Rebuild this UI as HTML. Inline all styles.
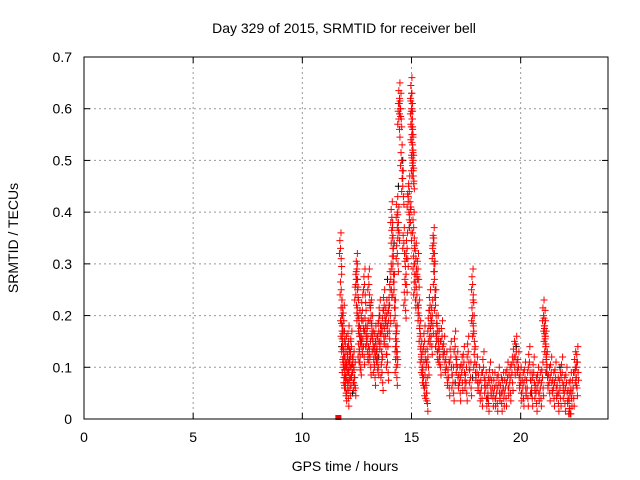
<!DOCTYPE html>
<html><head><meta charset="utf-8"><style>
body{margin:0;background:#fff}
svg{display:block;font-family:"Liberation Sans",sans-serif}
</style></head><body>
<svg id="chart" width="640" height="480" viewBox="0 0 640 480">
<rect x="0" y="0" width="640" height="480" fill="#fff"/>
<text x="344" y="33" font-size="14" text-anchor="middle" fill="#000">Day 329 of 2015, SRMTID for receiver bell</text>
<g id="grid"></g>
<g id="ticks"></g>
<g id="black"></g>
<g id="red"></g>
<rect x="84" y="57" width="524" height="362" fill="none" stroke="#000" stroke-width="1"/>
<text x="345" y="471" font-size="14" text-anchor="middle">GPS time / hours</text>
<text transform="translate(18,238) rotate(-90)" font-size="14" text-anchor="middle">SRMTID / TECUs</text>
</svg>
<script>
const xTicks=[0,5,10,15,20];
const yTicks=[0,0.1,0.2,0.3,0.4,0.5,0.6,0.7];
const yTickLabels=["0","0.1","0.2","0.3","0.4","0.5","0.6","0.7"];
const redHours=[11.75,11.78,11.8,11.82,11.85,11.88,11.9,11.92,11.95,11.98,12.0,12.05,12.08,12.1,12.12,12.15,12.18,12.2,12.25,12.3,12.35,12.4,12.45,12.5,12.5,12.55,12.6,12.62,12.65,12.7,12.75,12.8,12.85,12.9,12.95,13.0,13.05,13.1,13.15,13.2,13.25,13.3,13.35,13.4,13.45,13.5,13.55,13.6,13.65,13.7,13.75,13.8,13.85,13.9,13.95,14.0,14.05,14.1,14.12,14.15,14.2,14.25,14.3,14.3,14.32,14.35,14.35,14.4,14.42,14.45,14.5,14.55,14.6,14.65,14.7,14.75,14.8,14.85,14.9,14.95,15.0,15.0,15.02,15.02,15.05,15.05,15.08,15.1,15.12,15.15,15.2,15.25,15.3,15.35,15.4,15.45,15.5,15.55,15.6,15.65,15.7,15.75,15.8,15.85,15.9,15.95,16.0,16.02,16.05,16.1,16.15,16.2,16.25,16.3,16.4,16.5,16.6,16.7,16.8,16.9,17.0,17.1,17.2,17.3,17.4,17.5,17.6,17.7,17.8,17.8,17.85,17.9,18.0,18.1,18.2,18.3,18.4,18.5,18.6,18.7,18.8,18.9,19.0,19.1,19.2,19.3,19.4,19.5,19.6,19.7,19.8,19.9,20.0,20.1,20.2,20.3,20.4,20.5,20.6,20.7,20.8,20.9,21.0,21.05,21.1,21.12,21.15,21.2,21.3,21.4,21.5,21.6,21.7,21.8,21.9,22.0,22.1,22.2,22.25,22.3,22.4,22.5,22.55,22.6];
const redVals=[0.33,0.25,0.2,0.17,0.14,0.1,0.19,0.12,0.08,0.07,0.13,0.09,0.06,0.11,0.15,0.08,0.1,0.12,0.14,0.09,0.1,0.08,0.24,0.29,0.27,0.2,0.13,0.18,0.12,0.16,0.21,0.14,0.26,0.18,0.15,0.16,0.26,0.12,0.2,0.17,0.14,0.1,0.15,0.13,0.12,0.17,0.2,0.15,0.09,0.18,0.22,0.16,0.2,0.11,0.19,0.22,0.27,0.39,0.35,0.3,0.25,0.2,0.14,0.1,0.15,0.32,0.4,0.38,0.58,0.62,0.6,0.5,0.45,0.34,0.23,0.28,0.33,0.42,0.44,0.38,0.63,0.6,0.58,0.55,0.52,0.49,0.48,0.37,0.3,0.25,0.31,0.24,0.29,0.2,0.16,0.12,0.1,0.08,0.15,0.07,0.05,0.12,0.18,0.22,0.16,0.2,0.32,0.34,0.27,0.22,0.15,0.17,0.14,0.12,0.16,0.13,0.1,0.08,0.12,0.07,0.14,0.1,0.07,0.09,0.11,0.07,0.13,0.08,0.26,0.2,0.17,0.11,0.09,0.07,0.06,0.1,0.06,0.05,0.08,0.06,0.06,0.05,0.07,0.05,0.06,0.06,0.08,0.07,0.09,0.12,0.13,0.1,0.07,0.06,0.08,0.06,0.11,0.06,0.09,0.05,0.07,0.06,0.08,0.2,0.18,0.16,0.14,0.1,0.07,0.09,0.06,0.08,0.05,0.06,0.09,0.05,0.07,0.04,0.02,0.06,0.06,0.1,0.08,0.11,0.07];
const blackHours=[11.8,12.0,12.3,12.7,13.1,13.5,13.9,14.2,14.4,14.6,14.9,15.3,15.7,16.0,16.5,17.0,17.8,18.5,19.2,19.8,20.5,21.2,21.8,22.4];
const blackVals=[0.14,0.08,0.05,0.15,0.22,0.12,0.27,0.34,0.45,0.5,0.37,0.22,0.11,0.35,0.13,0.07,0.08,0.04,0.06,0.14,0.05,0.09,0.1,0.06];
const xMin=0,xMax=24,yMin=0,yMax=0.7,L=84,R=608,T=57,B=419;
const sx=v=>L+(v-xMin)/(xMax-xMin)*(R-L);
const sy=v=>B-(v-yMin)/(yMax-yMin)*(B-T);
const NS="http://www.w3.org/2000/svg";
function mk(tag,attrs,parent){const e=document.createElementNS(NS,tag);for(const k in attrs)e.setAttribute(k,attrs[k]);parent.appendChild(e);return e;}
const grid=document.getElementById('grid'),ticks=document.getElementById('ticks');
xTicks.forEach(v=>{const x=sx(v);
 if(v>0){const g=mk('line',{x1:x,x2:x,y1:T,y2:B,stroke:'#999','stroke-dasharray':'2,3'},grid);
 
 }
 const t=mk('text',{x:x,y:B+23,'font-size':14,'text-anchor':'middle'},ticks);t.textContent=v;
 
 
 mk('line',{x1:x,x2:x,y1:B,y2:B-6,stroke:'#000'},ticks);mk('line',{x1:x,x2:x,y1:T,y2:T+6,stroke:'#000'},ticks);});
yTicks.forEach((v,i)=>{const y=sy(v);
 if(v>0&&v<0.7){const g=mk('line',{x1:L,x2:R,y1:y,y2:y,stroke:'#999','stroke-dasharray':'2,3'},grid);
 
 }
 const t=mk('text',{x:L-12,y:y+5,'font-size':14,'text-anchor':'end'},ticks);t.textContent=yTickLabels[i];
 
 
 mk('line',{x1:L,x2:L+6,y1:y,y2:y,stroke:'#000'},ticks);mk('line',{x1:R,x2:R-6,y1:y,y2:y,stroke:'#000'},ticks);});
function plus(g,h,v,c){const x=sx(h),y=sy(Math.max(0.01,v));
 const p=mk('path',{d:`M${x-3.5},${y}H${x+3.5}M${x},${y-3.5}V${y+3.5}`,stroke:c,'stroke-width':1,fill:'none'},g);
 
 }
const bg=document.getElementById('black'),rg=document.getElementById('red');
blackHours.forEach((h,i)=>plus(bg,h,blackVals[i],'#000'));
const jitter=[[0,0],[0.03,-0.02],[-0.03,0.015],[0.05,-0.035],[-0.05,-0.01],[0.02,0.03]];
redHours.forEach((h,i)=>jitter.forEach(j=>plus(rg,h+j[0],redVals[i]+j[1],'#f00')));
const sq=mk('rect',{x:sx(11.65)-3,y:B-4,width:6,height:5,fill:'#f00'},rg);


</script>
</body></html>
